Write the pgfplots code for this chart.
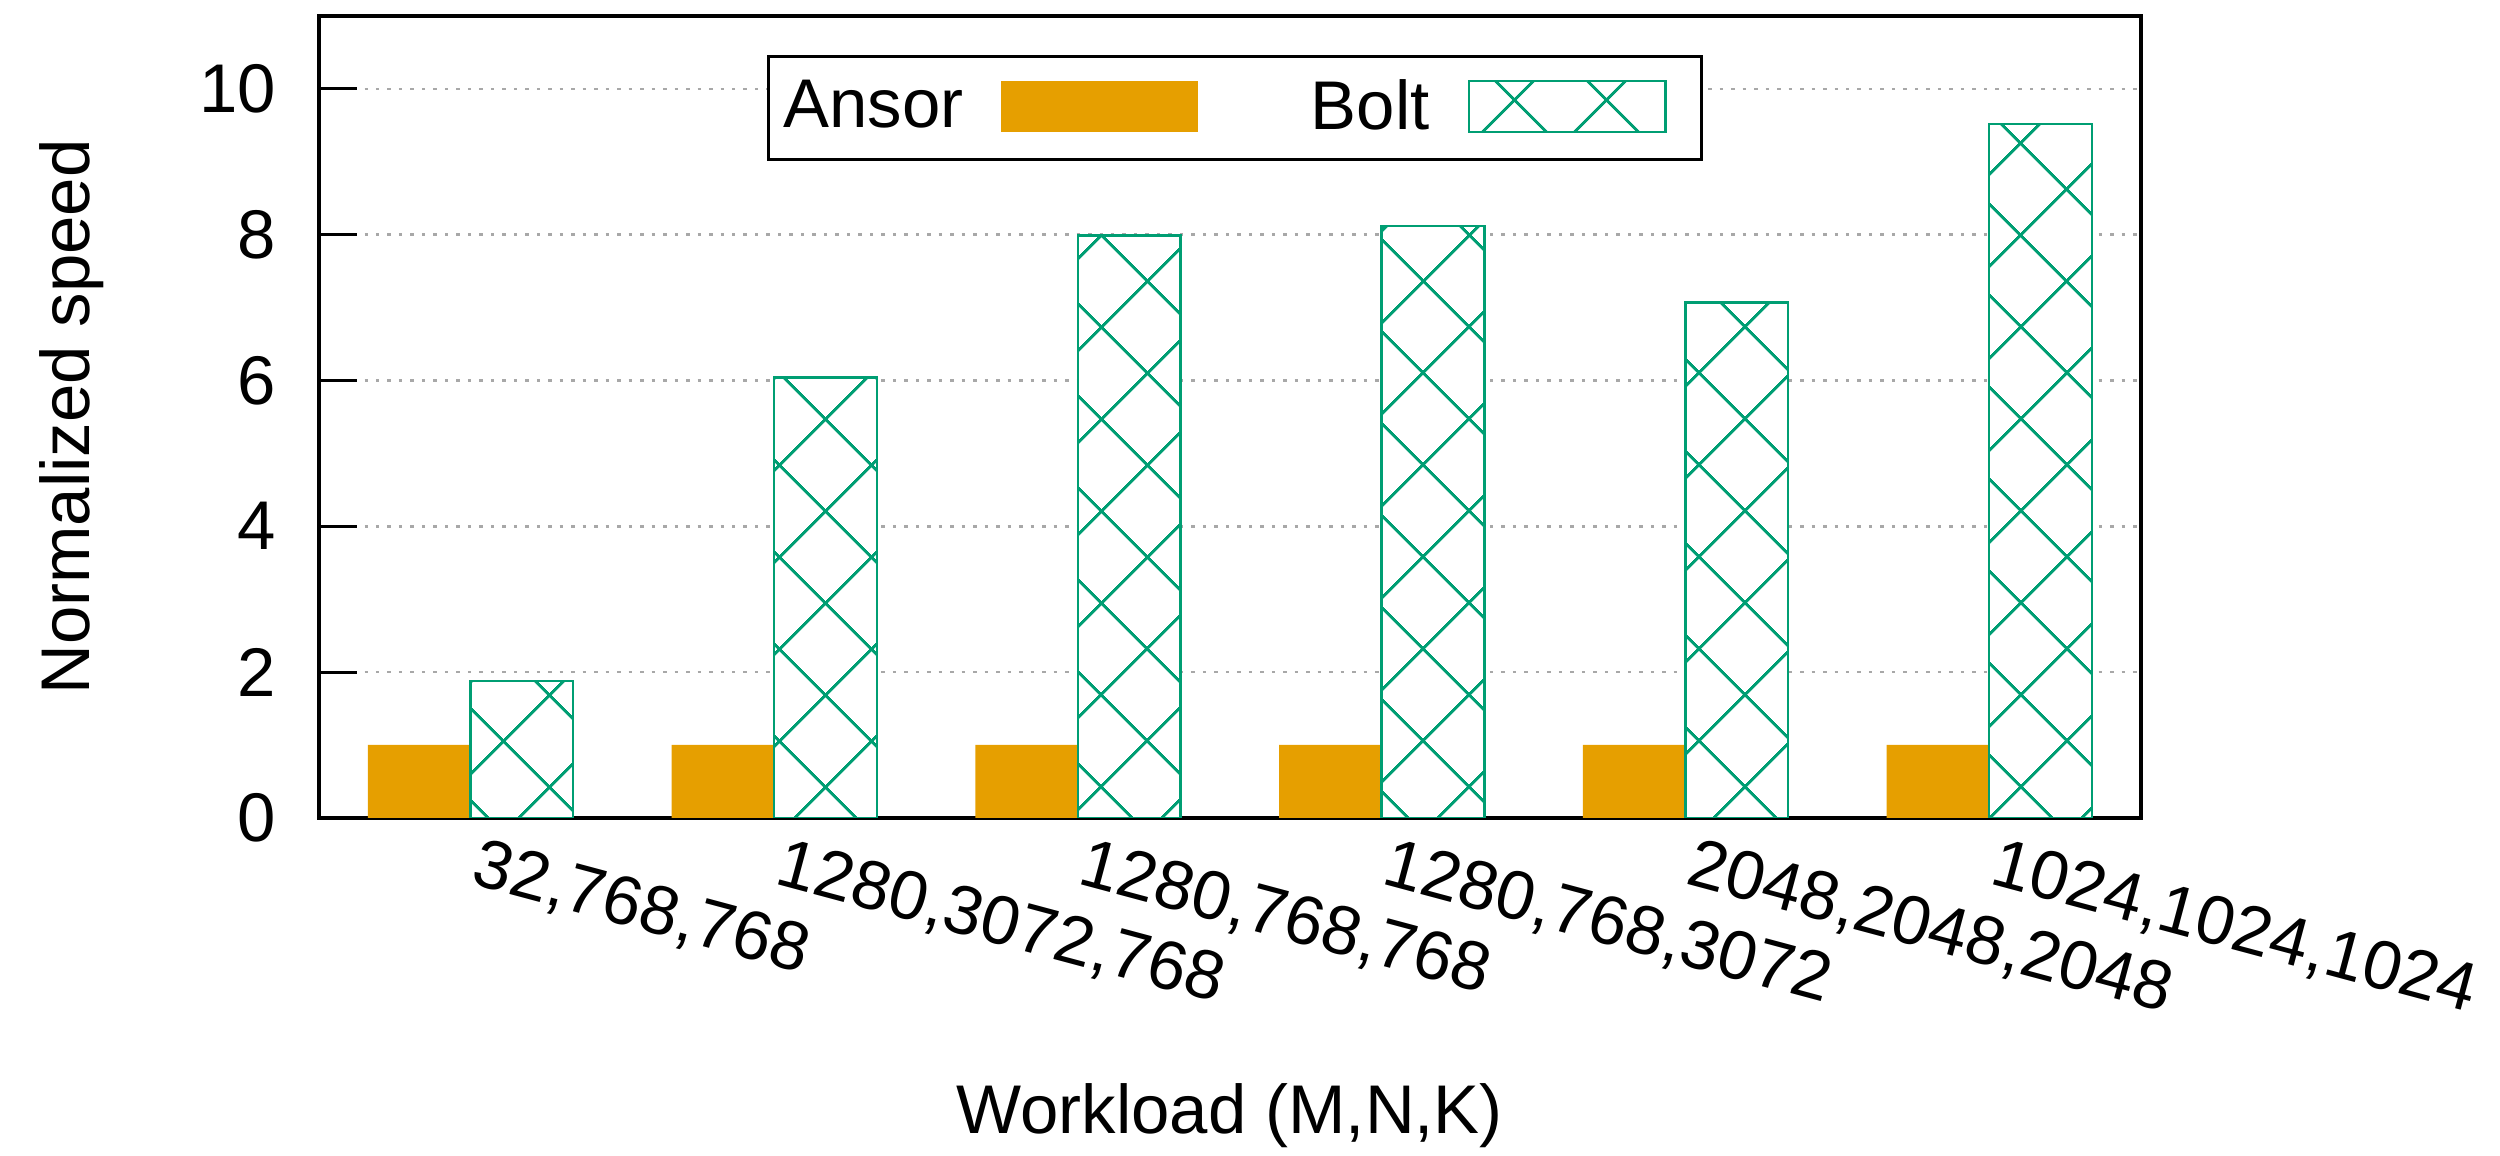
\documentclass[border=0pt]{standalone}
\usepackage{fontspec}
\setmainfont{Liberation Sans}
\usepackage{pgfplots}
\pgfplotsset{compat=1.18}
\usetikzlibrary{patterns.meta}

\definecolor{ansor}{HTML}{E69F00}
\definecolor{bolt}{HTML}{009E73}
\definecolor{gridgray}{HTML}{A8A8A8}

% legend samples: a wide box beside the text, with a little room after it
\pgfplotsset{
  swatchfill/.style={
    legend image code/.code={
      \fill[ansor] (0pt,-4.8pt) rectangle (39.4pt,5.4pt);
      \path (45.4pt,0pt);
    }
  },
  swatchhatch/.style={
    legend image code/.code={
      \draw[##1] (0pt,-4.8pt) rectangle (39.4pt,5.4pt);
      \path (45.4pt,0pt);
    }
  },
  crosshatch/.style={
    fill=white, draw=bolt, line width=0.5pt,
    postaction={pattern={Lines[angle=45,distance=13pt,line width=0.6pt]}, pattern color=bolt},
    postaction={pattern={Lines[angle=-45,distance=13pt,line width=0.6pt]}, pattern color=bolt},
  },
}

\begin{document}
\begin{tikzpicture}[font=\fontsize{13.8}{16}\selectfont]
\begin{axis}[
  name=ax,
  scale only axis, width=365pt, height=160.6pt,
  ybar=0pt, bar width=0.338,
  xmin=-0.5, xmax=5.5, ymin=0, ymax=11,
  xtick={0,1,2,3,4,5},
  xticklabels={{32,768,768},{1280,3072,768},{1280,768,768},{1280,768,3072},{2048,2048,2048},{1024,1024,1024}},
  ytick={0,2,4,6,8,10},
  ytick pos=left,
  tick align=inside,
  major tick length=7.7pt,
  xtick style={draw=none},
  ytick style={line width=0.6pt, black},
  axis line style={line width=0.8pt, black},
  ymajorgrids,
  grid style={gridgray, line width=0.5pt, dash pattern=on 0.7pt off 1.6pt},
  /pgf/number format/assume math mode=true,
  yticklabel style={xshift=-5pt},
  xticklabel style={rotate=-15, anchor=north west, inner sep=3pt},
  xlabel={Workload (M,N,K)},
  ylabel={Normalized speed},
  xlabel style={at={(axis description cs:0.5,-0.372)}, anchor=center, inner sep=0pt},
  ylabel style={at={(axis description cs:-0.1353,0.5)}, anchor=center, inner sep=0pt},
  legend columns=2,
  legend plot pos=right,
  legend style={
    at={(axis description cs:0.246,0.951)}, anchor=north west,
    draw=black, line width=0.6pt,
    inner xsep=1pt, inner ysep=3.5pt,
    nodes={inner xsep=2pt, inner ysep=1pt},
    /tikz/every odd column/.append style={column sep=5.6pt},
    /tikz/every even column/.append style={column sep=14.6pt},
  },
]
\addplot[fill=ansor, draw=none, swatchfill]
  coordinates {(0,1.0) (1,1.0) (2,1.0) (3,1.0) (4,1.0) (5,1.0)};
\addlegendentry{Ansor}
\addplot[crosshatch, swatchhatch]
  coordinates {(0,1.88) (1,6.04) (2,7.99) (3,8.12) (4,7.07) (5,9.52)};
\addlegendentry{Bolt}
\end{axis}
% page frame around the axis and its labels
\path ([xshift=-63.8pt,yshift=-67.6pt]ax.south west) rectangle ([xshift=71.2pt,yshift=3.2pt]ax.north east);
\end{tikzpicture}
\end{document}
